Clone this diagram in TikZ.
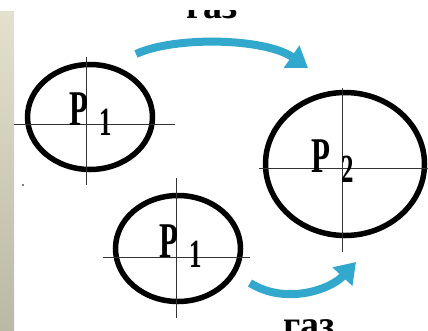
\documentclass[tikz,border=0pt]{standalone}
\usepackage{fontspec}
\setmainfont{Liberation Serif}
\usetikzlibrary{shapes.geometric, arrows.meta, positioning}

\definecolor{gasblue}{RGB}{50,168,204}
\definecolor{striptop}{RGB}{228,224,206}
\definecolor{stripbot}{RGB}{186,185,165}

\tikzstyle{vessel} = [ellipse, draw=black, line width=5.5pt, inner sep=0pt]
\tikzstyle{axis} = [draw=black!80, line width=0.9pt]
\tikzstyle{plabel} = [inner sep=0pt, anchor=base west, font=\fontsize{50}{50}\selectfont\bfseries]
\tikzstyle{gaslabel} = [inner sep=0pt, anchor=base, font=\fontsize{38}{38}\selectfont\bfseries]
\tikzstyle{gasarrow} = [draw=gasblue, line width=8pt, -{Triangle[width=26pt,length=20pt]}]

\newcommand{\pres}[1]{\scalebox{0.62}[1]{P\kern17pt\raisebox{-10pt}{\fontsize{40}{40}\selectfont #1}}}

\begin{document}
\begin{tikzpicture}[x=1pt, y=-1pt]
    \useasboundingbox (0,0) rectangle (428,330);
    \shade[top color=striptop, bottom color=stripbot] (0,11) rectangle (14,330);
    \fill (23,185) circle (0.8);

    % Vessels
    \node (v1) [vessel, minimum width=125pt, minimum height=105pt] at (90,117) {};
    \node (v2) [vessel, minimum width=159pt, minimum height=143pt] at (345,164) {};
    \node (v3) [vessel, minimum width=125pt, minimum height=106pt] at (178,248.5) {};

    % Axes
    \draw[axis] (14,124) -- (175,124);
    \draw[axis] (86,57) -- (86,185);
    \draw[axis] (259,168) -- (428,168);
    \draw[axis] (342,88) -- (342,252);
    \draw[axis] (103,257) -- (250,257);
    \draw[axis] (176,178) -- (176,318);

    % Labels
    \node (p1) [plabel] at (69.5,125) {\pres{1}};
    \node (p2) [plabel] at (311.5,172) {\pres{2}};
    \node (p3) [plabel] at (159.5,257) {\pres{1}};
    \begin{scope}
        \clip (0,10) rectangle (428,330);
        \node (gastop) [gaslabel] at (212,18) {газ};
    \end{scope}
    \node (gasbot) [gaslabel] at (309,337) {газ};

    % Arrows
    \coordinate (t1) at (136,54);
    \coordinate (h1) at (308,68);
    \coordinate (t2) at (250,283);
    \coordinate (h2) at (356,262);
    \draw [gasarrow] (t1) .. controls (175,36) and (265,38) .. (h1);
    \draw [gasarrow] (t2) .. controls (285,305) and (330,290) .. (h2);
\end{tikzpicture}
\end{document}
